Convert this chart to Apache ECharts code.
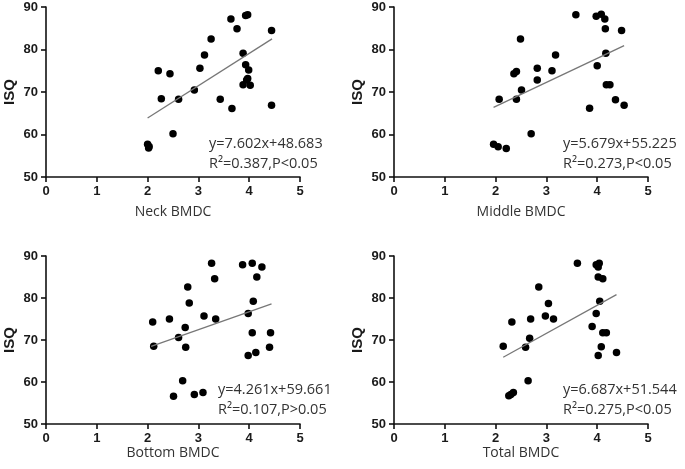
<!DOCTYPE html>
<html>
<head>
<meta charset="utf-8">
<script src="https://cdn.jsdelivr.net/npm/echarts@6/dist/echarts.min.js"></script>
<style>
  html, body { margin: 0; padding: 0; background: #fff; }
  #main { width: 685px; height: 469px; }
</style>
</head>
<body>
<div id="main"></div>
<script>
// BMDC values (x) and ISQ (y) for each site
var neckX = [2.00, 2.02, 2.03, 2.21, 2.27, 2.44, 2.50, 2.61, 2.92, 3.03, 3.12, 3.25, 3.43, 3.64, 3.66, 3.76, 3.88, 3.88, 3.93, 3.97, 3.93, 3.99, 3.95, 3.97, 4.02, 4.44, 4.44];
var neckY = [57.7, 56.8, 57.2, 75.0, 68.4, 74.3, 60.2, 68.3, 70.5, 75.6, 78.7, 82.5, 68.3, 87.2, 66.1, 84.9, 79.1, 71.7, 88.0, 88.2, 76.4, 75.2, 72.8, 73.2, 71.6, 84.5, 66.9];

var middleX = [1.96, 2.05, 2.07, 2.21, 2.36, 2.41, 2.41, 2.49, 2.51, 2.70, 2.82, 2.82, 3.11, 3.18, 3.58, 3.98, 4.08, 4.15, 4.16, 4.00, 4.17, 4.18, 4.25, 3.85, 4.36, 4.48, 4.53];
var middleY = [57.7, 57.1, 68.3, 56.7, 74.3, 74.8, 68.3, 82.5, 70.5, 60.2, 75.6, 72.8, 75.0, 78.7, 88.2, 87.8, 88.3, 87.2, 84.9, 76.2, 79.1, 71.7, 71.7, 66.2, 68.2, 84.5, 66.9];

var bottomX = [2.10, 2.12, 2.43, 2.51, 2.61, 2.69, 2.74, 2.75, 2.79, 2.82, 2.92, 3.09, 3.11, 3.26, 3.32, 3.34, 3.87, 3.98, 3.98, 4.06, 4.08, 4.06, 4.13, 4.15, 4.25, 4.40, 4.42];
var bottomY = [74.3, 68.5, 75.0, 56.6, 70.6, 60.3, 73.0, 68.3, 82.6, 78.8, 57.0, 57.5, 75.7, 88.3, 84.6, 75.0, 87.9, 76.3, 66.3, 88.3, 79.2, 71.7, 67.0, 85.0, 87.4, 68.3, 71.7];

var totalX = [2.15, 2.26, 2.30, 2.35, 2.32, 2.59, 2.67, 2.64, 2.69, 2.85, 2.98, 3.04, 3.14, 3.61, 3.98, 4.04, 4.02, 4.02, 4.11, 3.90, 3.98, 4.05, 4.02, 4.11, 4.18, 4.08, 4.38];
var totalY = [68.5, 56.7, 57.0, 57.5, 74.3, 68.3, 70.4, 60.3, 75.0, 82.6, 75.7, 78.7, 75.0, 88.3, 87.9, 88.3, 87.4, 85.0, 84.6, 73.2, 76.3, 79.2, 66.3, 71.7, 71.7, 68.4, 67.0];

// fitted line ends, as drawn
var neckFit = [[2.00, 63.9], [4.45, 82.5]];
var middleFit = [[1.96, 66.4], [4.53, 80.9]];
var bottomFit = [[2.07, 68.5], [4.44, 78.6]];
var totalFit = [[2.15, 65.9], [4.38, 80.8]];

var axisNames = ['Neck BMDC', 'Middle BMDC', 'Bottom BMDC', 'Total BMDC'];
var equations = ['y=7.602x+48.683', 'y=5.679x+55.225', 'y=4.261x+59.661', 'y=6.687x+51.544'];
var stats = ['R\u00b2=0.387,P<0.05', 'R\u00b2=0.273,P<0.05', 'R\u00b2=0.107,P>0.05', 'R\u00b2=0.275,P<0.05'];

function pairs(xs, ys) {
  var out = [];
  for (var i = 0; i < xs.length; i++) out.push([xs[i], ys[i]]);
  return out;
}

var points = [pairs(neckX, neckY), pairs(middleX, middleY), pairs(bottomX, bottomY), pairs(totalX, totalY)];
var fits = [neckFit, middleFit, bottomFit, totalFit];

var grids = [
  { left: 46, top: 7, width: 254, height: 170 },
  { left: 394, top: 7, width: 254, height: 170 },
  { left: 46, top: 256, width: 254, height: 168 },
  { left: 394, top: 256, width: 254, height: 168 }
];
// where the equation text sits in each panel
var textPos = [[209, 143], [563, 143], [218, 389], [563, 389]];
var xNameGap = [28, 28, 14, 14];

var tickFont = { fontFamily: 'Liberation Sans', fontWeight: 'bold', fontSize: 13, color: '#1a1a1a' };
var axisLine = { show: true, lineStyle: { color: '#111', width: 1.6 } };
var axisTick = { show: true, length: 5, lineStyle: { color: '#111', width: 1.6 } };

var xAxes = [], yAxes = [], series = [], graphics = [];
for (var i = 0; i < 4; i++) {
  xAxes.push({
    gridIndex: i, type: 'value', min: 0, max: 5, interval: 1,
    splitLine: { show: false },
    axisLine: axisLine, axisTick: axisTick,
    axisLabel: Object.assign({ margin: 8 }, tickFont),
    name: axisNames[i], nameLocation: 'middle', nameGap: xNameGap[i],
    nameTextStyle: { fontFamily: 'Open Sans', fontSize: 14, color: '#333' }
  });
  yAxes.push({
    gridIndex: i, type: 'value', min: 50, max: 90, interval: 10,
    splitLine: { show: false },
    axisLine: axisLine, axisTick: axisTick,
    axisLabel: Object.assign({ margin: 8 }, tickFont),
    name: 'ISQ', nameLocation: 'middle', nameGap: 29,
    nameTextStyle: { fontFamily: 'Liberation Sans', fontWeight: 'bold', fontSize: 15, color: '#1a1a1a' }
  });
  series.push({
    type: 'scatter', xAxisIndex: i, yAxisIndex: i,
    symbolSize: 7.5, itemStyle: { color: '#000', opacity: 1 },
    data: points[i]
  });
  series.push({
    type: 'line', xAxisIndex: i, yAxisIndex: i,
    symbol: 'none', lineStyle: { color: '#777', width: 1.3 },
    data: fits[i]
  });
  graphics.push({
    type: 'text', left: textPos[i][0], top: textPos[i][1] - 7,
    style: { text: equations[i], fontFamily: 'Open Sans', fontSize: 14.5, fill: '#333' }
  });
  graphics.push({
    type: 'text', left: textPos[i][0], top: textPos[i][1] + 13,
    style: { text: stats[i], fontFamily: 'Open Sans', fontSize: 14.5, fill: '#333' }
  });
}

var myChart = echarts.init(document.getElementById('main'));
myChart.setOption({
  animation: false,
  grid: grids,
  xAxis: xAxes,
  yAxis: yAxes,
  series: series,
  graphic: graphics
});
</script>
</body>
</html>
